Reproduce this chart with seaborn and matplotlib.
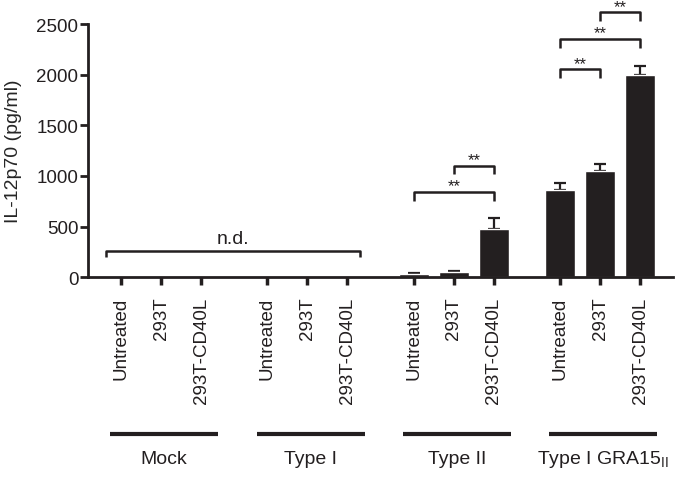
import matplotlib
matplotlib.use('Agg')
import matplotlib.pyplot as plt
import matplotlib.transforms as mtransforms
import numpy as np
import pandas as pd
import seaborn as sns

GROUPS = ['Mock', 'Type I', 'Type II', 'Type I GRA15$_{\\mathrm{II}}$']
TREATMENTS = ['Untreated', '293T', '293T-CD40L']
# IL-12p70 (pg/ml), one row per group
VALUES = [
    [0, 0, 0],
    [0, 0, 0],
    [35, 50, 480],
    [865, 1050, 1995],
]
SEM = [
    [0, 0, 0],
    [0, 0, 0],
    [8, 10, 110],
    [70, 65, 95],
]
# (group, bar a, bar b, bracket height)
COMPARISONS = [
    (2, 0, 2, 843),
    (2, 1, 2, 1100),
    (3, 0, 1, 2055),
    (3, 0, 2, 2352),
    (3, 1, 2, 2615),
]

INK = '#231f20'
GROUP_STEP = 3.66

sns.set_style('ticks')
plt.rcParams['font.family'] = ['Liberation Sans', 'DejaVu Sans']
plt.rcParams['mathtext.fontset'] = 'custom'
plt.rcParams['mathtext.rm'] = 'Liberation Sans'
plt.rcParams['text.color'] = INK
plt.rcParams['axes.edgecolor'] = INK
plt.rcParams['xtick.color'] = INK
plt.rcParams['ytick.color'] = INK

rows = []
for g, name in enumerate(GROUPS):
    for t, treat in enumerate(TREATMENTS):
        rows.append({'group': name, 'treatment': treat,
                     'pos': g * GROUP_STEP + t,
                     'value': VALUES[g][t], 'sem': SEM[g][t]})
df = pd.DataFrame(rows)

fig = plt.figure(figsize=(6.78, 4.81), dpi=100)
ax = fig.add_axes([0.1298, 0.4214, 0.8628, 0.5266])

sns.barplot(data=df, x='pos', y='value', native_scale=True, color=INK,
            width=0.75, errorbar=None, saturation=1, ax=ax)

# upper-only error bars, drawn behind the bars so the lower cap is hidden
err = df[df['sem'] > 0]
ax.errorbar(err['pos'], err['value'], yerr=[np.zeros(len(err)), err['sem']],
            fmt='none', ecolor=INK, elinewidth=1.6, capsize=4.5, capthick=1.6,
            zorder=0.5)

ax.set_xlim(-0.825, 13.8)
ax.set_ylim(0, 2500)
ax.set_yticks([0, 500, 1000, 1500, 2000, 2500])
ax.set_xticks(df['pos'])
ax.set_xticklabels(df['treatment'], rotation=90, va='top', ha='center')
ax.set_xlabel('')
ax.set_ylabel('IL-12p70 (pg/ml)', fontsize=14, labelpad=10)
ax.tick_params(axis='y', labelsize=13.5, length=6, width=2, pad=1)
ax.tick_params(axis='x', labelsize=13.5, length=6, width=2.5, pad=8)
sns.despine(ax=ax)
for side in ['left', 'bottom']:
    ax.spines[side].set_linewidth(2)

line_kw = dict(color=INK, lw=1.8, clip_on=False, solid_capstyle='butt')

# significance brackets
leg = 85
for g, a, b, h in COMPARISONS:
    x1 = g * GROUP_STEP + a
    x2 = g * GROUP_STEP + b
    ax.plot([x1, x1, x2, x2], [h - leg, h, h, h - leg], **line_kw)
    ax.annotate('**', xy=((x1 + x2) / 2, h), xytext=(0, 1),
                textcoords='offset points', ha='center', va='baseline',
                fontsize=12, annotation_clip=False)

# not detected bracket over Mock and Type I
nd_x1, nd_x2 = -0.375, GROUP_STEP + 2.325
ax.plot([nd_x1, nd_x1, nd_x2, nd_x2], [200, 263, 263, 200], **line_kw)
ax.text((nd_x1 + nd_x2) / 2, 300, 'n.d.', ha='center', va='bottom', fontsize=14)

# group underlines and names
trans = mtransforms.blended_transform_factory(ax.transData, ax.transAxes)
for g, name in enumerate(GROUPS):
    c = g * GROUP_STEP + 1.08
    ax.plot([c - 1.35, c + 1.35], [-0.619, -0.619], transform=trans,
            color=INK, lw=3, clip_on=False, solid_capstyle='butt')
    ax.text(c, -0.717, name, transform=trans, ha='center', va='center',
            fontsize=14)

fig.savefig('out.png', dpi=100)
